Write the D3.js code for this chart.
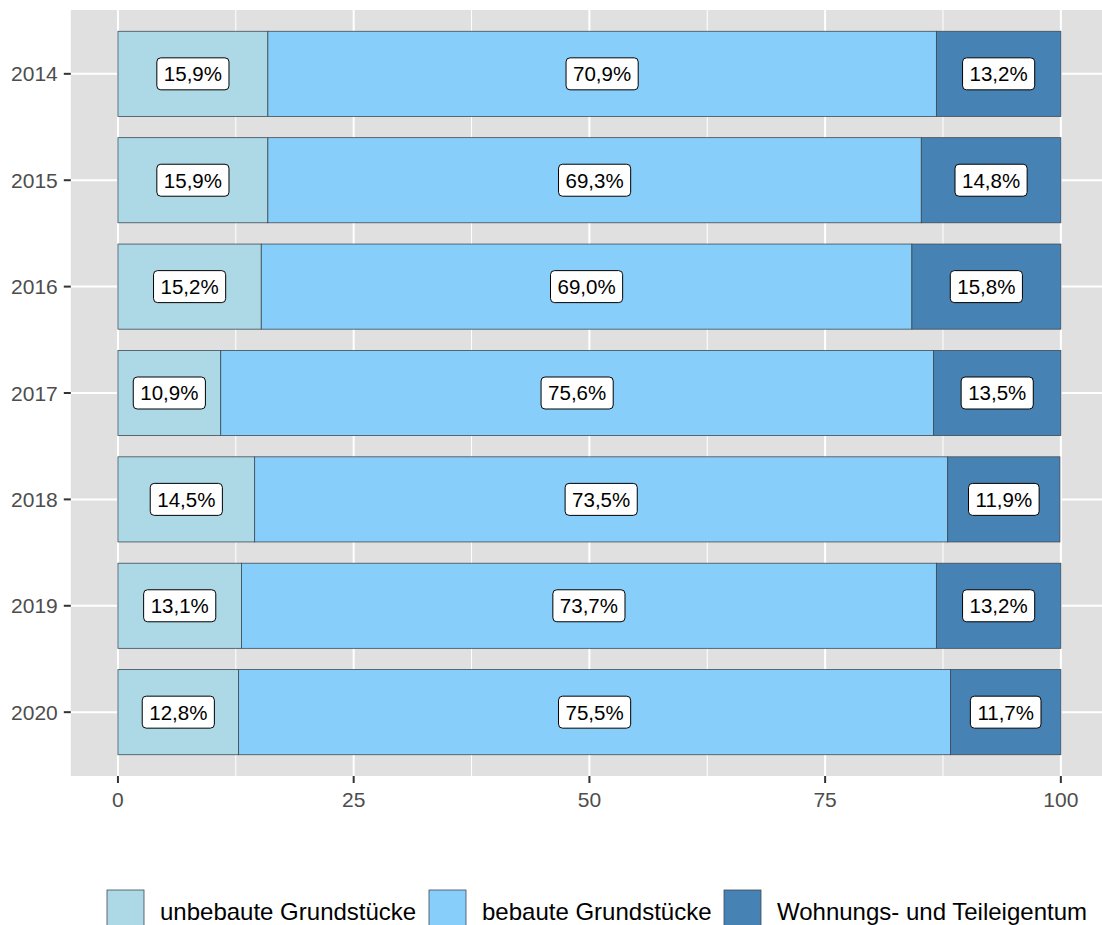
<!DOCTYPE html>
<html>
<head>
<meta charset="utf-8">
<script src="https://cdn.jsdelivr.net/npm/d3@7"></script>
<style>
  body { margin: 0; background: #fff; }
  text { font-family: "Liberation Sans", Arial, sans-serif; }
</style>
</head>
<body>
<div id="chart"></div>
<script>
// data
var years = ["2014", "2015", "2016", "2017", "2018", "2019", "2020"];
var categories = ["unbebaute Grundstücke", "bebaute Grundstücke", "Wohnungs- und Teileigentum"];
var unbebaut = [15.9, 15.9, 15.2, 10.9, 14.5, 13.1, 12.8];
var bebaut = [70.9, 69.3, 69.0, 75.6, 73.5, 73.7, 75.5];
var wohnung = [13.2, 14.8, 15.8, 13.5, 11.9, 13.2, 11.7];
var xTicks = [0, 25, 50, 75, 100];
var colors = ["#ADD8E6", "#87CEFA", "#4682B4"];

var W = 1102, H = 925;
// panel area (extends past right edge like the original)
var panel = {left: 70.8, right: 1108, top: 10, bottom: 776};

var svg = d3.select("#chart").append("svg")
    .attr("width", W)
    .attr("height", H);

// x scale with ggplot-like 5% expansion
var x = d3.scaleLinear()
    .domain([-5, 105])
    .range([panel.left, panel.right]);

// y: discrete with 0.6 expansion
var y = d3.scalePoint()
    .domain(years)
    .range([panel.top, panel.bottom])
    .padding(0.6);
var step = y.step();
var barH = step * 0.8;

// panel background
svg.append("rect")
    .attr("x", panel.left)
    .attr("y", panel.top)
    .attr("width", panel.right - panel.left)
    .attr("height", panel.bottom - panel.top)
    .attr("fill", "#E0E0E0");

// minor grid
svg.append("g").selectAll("line")
    .data([12.5, 37.5, 62.5, 87.5])
    .enter().append("line")
    .attr("x1", function(d) { return x(d); })
    .attr("x2", function(d) { return x(d); })
    .attr("y1", panel.top)
    .attr("y2", panel.bottom)
    .attr("stroke", "#fff")
    .attr("stroke-width", 1);

// major grid
svg.append("g").selectAll("line")
    .data(xTicks)
    .enter().append("line")
    .attr("x1", function(d) { return x(d); })
    .attr("x2", function(d) { return x(d); })
    .attr("y1", panel.top)
    .attr("y2", panel.bottom)
    .attr("stroke", "#fff")
    .attr("stroke-width", 2);

svg.append("g").selectAll("line")
    .data(years)
    .enter().append("line")
    .attr("x1", panel.left)
    .attr("x2", panel.right)
    .attr("y1", function(d) { return y(d); })
    .attr("y2", function(d) { return y(d); })
    .attr("stroke", "#fff")
    .attr("stroke-width", 2);

// stack the series
var rows = years.map(function(yr, i) {
    return {year: yr, vals: [unbebaut[i], bebaut[i], wohnung[i]]};
});
var segs = [];
rows.forEach(function(r) {
    var acc = 0;
    r.vals.forEach(function(v, k) {
        segs.push({year: r.year, k: k, x0: acc, x1: acc + v, v: v});
        acc += v;
    });
});

svg.append("g").selectAll("rect")
    .data(segs)
    .enter().append("rect")
    .attr("x", function(d) { return x(d.x0); })
    .attr("y", function(d) { return y(d.year) - barH / 2; })
    .attr("width", function(d) { return x(d.x1) - x(d.x0); })
    .attr("height", barH)
    .attr("fill", function(d) { return colors[d.k]; })
    .attr("stroke", "#3d4a55")
    .attr("stroke-width", 0.8);

// labels
var fmt = function(v) { return v.toFixed(1).replace(".", ",") + "%"; };
var lab = svg.append("g").selectAll("g")
    .data(segs)
    .enter().append("g")
    .attr("transform", function(d) {
        return "translate(" + x((d.x0 + d.x1) / 2) + "," + y(d.year) + ")";
    });

lab.append("text")
    .attr("text-anchor", "middle")
    .attr("dy", "0.36em")
    .attr("font-size", 20.5)
    .attr("fill", "#000")
    .text(function(d) { return fmt(d.v); });

lab.each(function() {
    var g = d3.select(this);
    var bb = g.select("text").node().getBBox();
    g.insert("rect", "text")
        .attr("x", bb.x - 7)
        .attr("y", -16)
        .attr("width", bb.width + 14)
        .attr("height", 32)
        .attr("rx", 4)
        .attr("fill", "#fff")
        .attr("stroke", "#000")
        .attr("stroke-width", 1);
});

// y axis
var yAx = svg.append("g");
yAx.selectAll("line")
    .data(years)
    .enter().append("line")
    .attr("x1", panel.left - 7)
    .attr("x2", panel.left)
    .attr("y1", function(d) { return y(d); })
    .attr("y2", function(d) { return y(d); })
    .attr("stroke", "#333")
    .attr("stroke-width", 2);
yAx.selectAll("text")
    .data(years)
    .enter().append("text")
    .attr("x", panel.left - 13)
    .attr("y", function(d) { return y(d); })
    .attr("dy", "0.36em")
    .attr("text-anchor", "end")
    .attr("font-size", 21)
    .attr("fill", "#4D4D4D")
    .text(function(d) { return d; });

// x axis
var xAx = svg.append("g");
xAx.selectAll("line")
    .data(xTicks)
    .enter().append("line")
    .attr("x1", function(d) { return x(d); })
    .attr("x2", function(d) { return x(d); })
    .attr("y1", panel.bottom)
    .attr("y2", panel.bottom + 7)
    .attr("stroke", "#333")
    .attr("stroke-width", 2);
xAx.selectAll("text")
    .data(xTicks)
    .enter().append("text")
    .attr("x", function(d) { return x(d); })
    .attr("y", panel.bottom + 31)
    .attr("text-anchor", "middle")
    .attr("font-size", 21)
    .attr("fill", "#4D4D4D")
    .text(function(d) { return d; });

// legend
var legX = [107, 429, 724];
var leg = svg.append("g").selectAll("g")
    .data(categories)
    .enter().append("g")
    .attr("transform", function(d, i) { return "translate(" + legX[i] + ",890)"; });
leg.append("rect")
    .attr("width", 37)
    .attr("height", 37)
    .attr("fill", function(d, i) { return colors[i]; })
    .attr("stroke", "#3d4a55")
    .attr("stroke-width", 0.8);
leg.append("text")
    .attr("x", 53)
    .attr("y", 21)
    .attr("dy", "0.36em")
    .attr("font-size", 24)
    .attr("fill", "#000")
    .text(function(d) { return d; });
</script>
</body>
</html>
